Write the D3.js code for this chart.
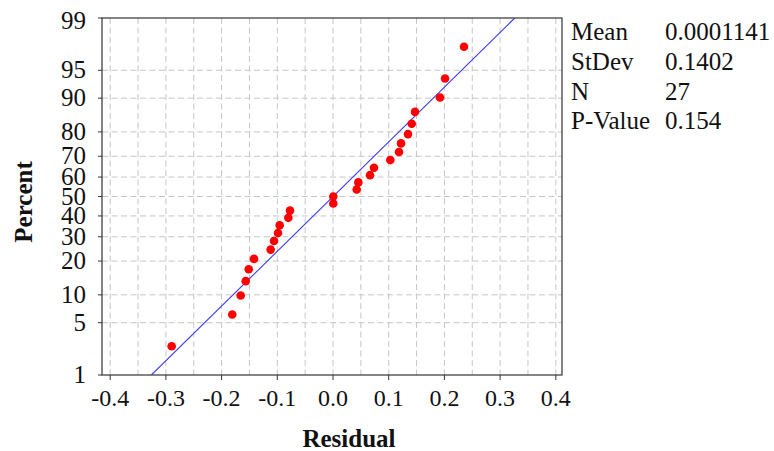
<!DOCTYPE html>
<html>
<head>
<meta charset="utf-8">
<script src="https://cdn.jsdelivr.net/npm/d3@7"></script>
<style>
  body { margin: 0; background: #fff; }
</style>
</head>
<body>
<div id="chart"></div>
<script>
// residuals, sorted
const residuals = [-0.2896, -0.1808, -0.1657, -0.1567, -0.1513, -0.1418, -0.1119, -0.1059, -0.0987,
  -0.0957, -0.0802, -0.0772, 0.0005, 0.0005, 0.0425, 0.0455, 0.0664, 0.0736, 0.1029, 0.1185,
  0.1221, 0.1346, 0.1413, 0.1472, 0.1921, 0.2011, 0.2352];
// plotted percent for each point
const percents = [2.55, 6.20, 9.85, 13.50, 17.15, 20.80, 24.45, 28.10, 31.75, 35.40, 39.05, 42.70,
  46.35, 50.00, 53.65, 57.30, 60.95, 64.60, 68.25, 71.90, 75.55, 79.20, 82.85, 86.50, 90.15,
  93.80, 97.45];
const yTicks = [1, 5, 10, 20, 30, 40, 50, 60, 70, 80, 90, 95, 99];
const xTicks = [-0.4, -0.3, -0.2, -0.1, 0.0, 0.1, 0.2, 0.3, 0.4];
const xGrid = [-0.4, -0.35, -0.3, -0.25, -0.2, -0.15, -0.1, -0.05, 0, 0.05, 0.1, 0.15, 0.2, 0.25, 0.3, 0.35, 0.4];
const statLabels = ["Mean", "StDev", "N", "P-Value"];
const statValues = ["0.0001141", "0.1402", "27", "0.154"];
const fitMean = 0.0001141;
const fitSd = 0.1402;

const FONT = "'Liberation Serif', 'Times New Roman', serif";

// inverse normal cdf (Acklam)
function probit(p) {
  const a = [-39.69683028665376, 220.9460984245205, -275.9285104469687, 138.3577518672690, -30.66479806614716, 2.506628277459239];
  const b = [-54.47609879822406, 161.5858368580409, -155.6989798598866, 66.80131188771972, -13.28068155288572];
  const c = [-0.007784894002430293, -0.3223964580411365, -2.400758277161838, -2.549732539343734, 4.374664141464968, 2.938163982698783];
  const d = [0.007784695709041462, 0.3224671290700398, 2.445134137142996, 3.754408661907416];
  const pl = 0.02425;
  let q, r;
  if (p < pl) {
    q = Math.sqrt(-2 * Math.log(p));
    return (((((c[0]*q+c[1])*q+c[2])*q+c[3])*q+c[4])*q+c[5]) / ((((d[0]*q+d[1])*q+d[2])*q+d[3])*q+1);
  }
  if (p > 1 - pl) {
    q = Math.sqrt(-2 * Math.log(1 - p));
    return -(((((c[0]*q+c[1])*q+c[2])*q+c[3])*q+c[4])*q+c[5]) / ((((d[0]*q+d[1])*q+d[2])*q+d[3])*q+1);
  }
  q = p - 0.5; r = q * q;
  return (((((a[0]*r+a[1])*r+a[2])*r+a[3])*r+a[4])*r+a[5])*q / (((((b[0]*r+b[1])*r+b[2])*r+b[3])*r+b[4])*r+1);
}

const W = 774, H = 451;
const margin = { top: 18, right: 212, bottom: 76, left: 102 };
const width = W - margin.left - margin.right;
const height = H - margin.top - margin.bottom;

const svg = d3.select("#chart").append("svg")
  .attr("width", W)
  .attr("height", H)
  .attr("font-family", FONT);

const g = svg.append("g")
  .attr("transform", `translate(${margin.left},${margin.top})`);

const x = d3.scaleLinear().domain([-0.4147, 0.4111]).range([0, width]);
const zMin = probit(0.01), zMax = probit(0.99);
const y = d3.scaleLinear().domain([zMin, zMax]).range([height, 0]);
const yp = (p) => y(probit(p / 100));

// grid
g.append("g").selectAll("line")
  .data(xGrid)
  .join("line")
  .attr("x1", (d) => x(d)).attr("x2", (d) => x(d))
  .attr("y1", 0).attr("y2", height)
  .attr("stroke", "#c6c6c6")
  .attr("stroke-dasharray", "6,3.5");

g.append("g").selectAll("line")
  .data(yTicks.filter((d) => d > 1 && d < 99))
  .join("line")
  .attr("x1", 0).attr("x2", width)
  .attr("y1", (d) => yp(d)).attr("y2", (d) => yp(d))
  .attr("stroke", "#c6c6c6")
  .attr("stroke-dasharray", "6,3.5");

// fit line
g.append("clipPath").attr("id", "clip")
  .append("rect").attr("width", width).attr("height", height);

g.append("line")
  .attr("clip-path", "url(#clip)")
  .attr("x1", x(fitMean + fitSd * zMin)).attr("y1", y(zMin))
  .attr("x2", x(fitMean + fitSd * zMax)).attr("y2", y(zMax))
  .attr("stroke", "#3a3aff")
  .attr("stroke-width", 1.1);

// points
g.append("g").selectAll("circle")
  .data(residuals)
  .join("circle")
  .attr("cx", (d) => x(d))
  .attr("cy", (d, i) => yp(percents[i]))
  .attr("r", 4.3)
  .attr("fill", "#ff0000");

// frame
g.append("rect")
  .attr("width", width).attr("height", height)
  .attr("fill", "none")
  .attr("stroke", "#333")
  .attr("stroke-width", 1.2);

// x axis
const xAxis = g.append("g").attr("transform", `translate(0,${height})`);
xAxis.selectAll("line")
  .data(xTicks)
  .join("line")
  .attr("x1", (d) => x(d)).attr("x2", (d) => x(d))
  .attr("y1", 0).attr("y2", 5)
  .attr("stroke", "#333");
xAxis.selectAll("text")
  .data(xTicks)
  .join("text")
  .attr("x", (d) => x(d))
  .attr("y", 31)
  .attr("text-anchor", "middle")
  .attr("font-size", 24)
  .attr("fill", "#111")
  .text((d) => d3.format(".1f")(d).replace("−", "-"));

// y axis
const yAxis = g.append("g");
yAxis.selectAll("line")
  .data(yTicks)
  .join("line")
  .attr("x1", -4).attr("x2", 0)
  .attr("y1", (d) => yp(d)).attr("y2", (d) => yp(d))
  .attr("stroke", "#333");
yAxis.selectAll("text")
  .data(yTicks)
  .join("text")
  .attr("x", -16)
  .attr("y", (d) => yp(d) + (d === 99 ? 11 : 8))
  .attr("text-anchor", "end")
  .attr("font-size", 25)
  .attr("fill", "#111")
  .text((d) => d);

// axis titles
svg.append("text")
  .attr("x", 349)
  .attr("y", 447)
  .attr("text-anchor", "middle")
  .attr("font-size", 25)
  .attr("font-weight", "bold")
  .attr("fill", "#111")
  .text("Residual");

svg.append("text")
  .attr("transform", "translate(32,202) rotate(-90)")
  .attr("text-anchor", "middle")
  .attr("font-size", 25)
  .attr("font-weight", "bold")
  .attr("fill", "#111")
  .text("Percent");

// stats box
const stats = svg.append("g").attr("font-size", 25).attr("fill", "#111");
stats.selectAll("text.lab")
  .data(statLabels)
  .join("text")
  .attr("class", "lab")
  .attr("x", 571)
  .attr("y", (d, i) => 40 + i * 29.8)
  .text((d) => d);
stats.selectAll("text.val")
  .data(statValues)
  .join("text")
  .attr("class", "val")
  .attr("x", 665)
  .attr("y", (d, i) => 40 + i * 29.8)
  .text((d) => d);
</script>
</body>
</html>
